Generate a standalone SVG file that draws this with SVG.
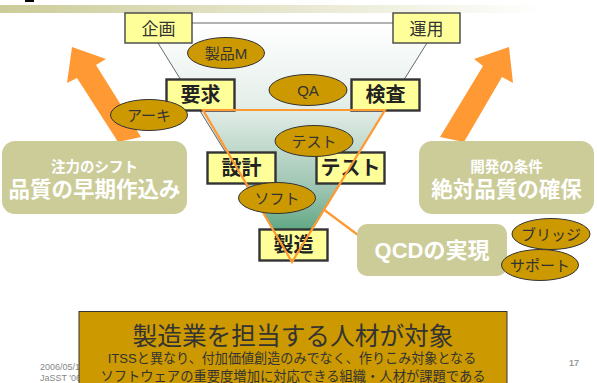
<svg xmlns="http://www.w3.org/2000/svg" width="597" height="383" viewBox="0 0 597 383">
<style>
text{font-family:"Liberation Sans","Noto Sans CJK JP",sans-serif;text-anchor:middle}
.top{fill:#FFFF99;stroke:#444;stroke-width:1.4}
.phase{fill:#FFFF99;stroke:#333;stroke-width:2.4}
.toplabel{font-size:17px;fill:#333}
.phaselabel{font-size:20px;font-weight:700;fill:#222}
.ell{fill:#CC9900;stroke:#333;stroke-width:1}
.elabel{font-size:15px;fill:#333}
.panel{fill:#CCCC99}
.sub{font-size:14.5px;font-weight:700;fill:#fff}
.main{font-size:21.5px;font-weight:700;fill:#fff}
.arrow{fill:#FF9933}
.tri{fill:none;stroke:#FF9933;stroke-width:2.2}
.foot{font-size:9px;fill:#888;text-anchor:start}
</style>
<defs>
<linearGradient id="band" x1="0" x2="1" y1="0" y2="0"><stop offset="0" stop-color="#CCCC99"/><stop offset="1" stop-color="#fff"/></linearGradient>
<linearGradient id="funnel" x1="0" x2="0" y1="0" y2="1"><stop offset="0" stop-color="#fff"/><stop offset="0.35" stop-color="#E4EEE9"/><stop offset="0.7" stop-color="#9CC4B0"/><stop offset="1" stop-color="#2F9060"/></linearGradient>
</defs>
<rect x="25" y="0" width="9" height="2" fill="#000"/>
<rect x="0" y="5" width="545" height="8" fill="url(#band)"/>
<text class="foot" x="40" y="370">2006/05/19</text>
<text class="foot" x="40" y="381">JaSST '06</text>
<text x="574" y="366" style="font-size:9px;font-weight:700;fill:#999">17</text>
<g id="connectors">
<polygon points="158,43 192,23 393,23 427,43 293,262" fill="url(#funnel)"/>
<polyline points="192,23 393,23" fill="none" stroke="#666" stroke-width="1"/>
<line x1="158" y1="43" x2="260" y2="208" stroke="#444" stroke-width="0.8"/>
<line x1="427" y1="43" x2="385" y2="110" stroke="#444" stroke-width="0.8"/>
<polygon class="arrow" points="72,47 106,59 96,65 141,137 118,142 77,78 67,83"/>
<polygon class="arrow" points="509,47 474,59 483,66 440,137 464,142 502,77 513,83"/>
</g>
<g id="kikaku"><rect class="top" x="125" y="13" width="67" height="30"/><text class="toplabel" x="158.500" y="35">企画</text></g>
<g id="unyo"><rect class="top" x="393" y="13" width="67" height="30"/><text class="toplabel" x="426.500" y="35">運用</text></g>
<g id="yokyu"><rect class="phase" x="166.500" y="79.500" width="68" height="31"/><text class="phaselabel" x="200.500" y="102">要求</text></g>
<g id="kensa"><rect class="phase" x="351.500" y="79.500" width="68" height="31"/><text class="phaselabel" x="385.500" y="102">検査</text></g>
<g id="sekkei"><rect class="phase" x="207.500" y="152.500" width="68" height="31"/><text class="phaselabel" x="241.500" y="175">設計</text></g>
<g id="test"><rect class="phase" x="316.500" y="152.500" width="68" height="31"/><text class="phaselabel" x="350.500" y="175">テスト</text></g>
<g id="seizo"><rect class="phase" x="259.500" y="229.500" width="68" height="31"/><text class="phaselabel" x="293.500" y="252">製造</text></g>
<g id="triangle">
<polygon class="tri" points="203,110 385,110 292,262"/>
<line x1="323" y1="209" x2="358" y2="235" stroke="#FF9933" stroke-width="2.2"/>
</g>
<g id="seihinM"><ellipse class="ell" cx="226" cy="53" rx="38.500" ry="15.500"/><text class="elabel" x="226" y="59">製品M</text></g>
<g id="qa"><ellipse class="ell" cx="308" cy="90" rx="39" ry="15.500"/><text class="elabel" x="308" y="96">QA</text></g>
<g id="aki"><ellipse class="ell" cx="149" cy="115" rx="38.500" ry="15.500"/><text class="elabel" x="149" y="121">アーキ</text></g>
<g id="test2"><ellipse class="ell" cx="314" cy="141" rx="39" ry="15.500"/><text class="elabel" x="314" y="147">テスト</text></g>
<g id="soft"><ellipse class="ell" cx="277" cy="198" rx="38.500" ry="15.500"/><text class="elabel" x="277" y="204">ソフト</text></g>
<g id="left"><rect class="panel" x="2" y="141" width="185" height="73" rx="13"/><text class="sub" x="94.500" y="172">注力のシフト</text><text class="main" x="94.500" y="197">品質の早期作込み</text></g>
<g id="right"><rect class="panel" x="419" y="141" width="175" height="73" rx="13"/><text class="sub" x="506.500" y="172">開発の条件</text><text class="main" x="506.500" y="197">絶対品質の確保</text></g>
<g id="qcd"><rect class="panel" x="357" y="224" width="150" height="52" rx="10"/><text x="432" y="258" style="font-size:22px;font-weight:700;fill:#fff">QCDの実現</text></g>
<g id="bridge"><ellipse class="ell" cx="551" cy="234" rx="39" ry="15.500"/><text class="elabel" x="551" y="240">ブリッジ</text></g>
<g id="support"><ellipse class="ell" cx="540" cy="265" rx="38.500" ry="15.500"/><text class="elabel" x="540" y="271">サポート</text></g>
<g id="bottom"><rect x="79" y="311.500" width="428" height="80" fill="#CC9900" stroke="#333" stroke-width="1"/>
<text x="293" y="345" style="font-size:24.7px;fill:#333">製造業を担当する人材が対象</text>
<text x="292" y="363" style="font-size:13.1px;fill:#333">ITSSと異なり、付加価値創造のみでなく、作りこみ対象となる</text>
<text x="293" y="381" style="font-size:13.3px;fill:#333">ソフトウェアの重要度増加に対応できる組織・人材が課題である</text>
</g>
</svg>
